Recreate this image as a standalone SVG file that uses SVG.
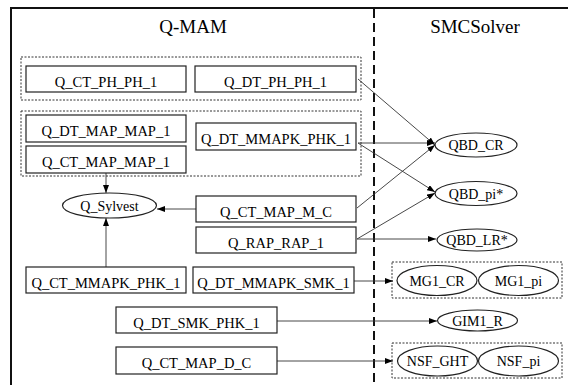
<svg xmlns="http://www.w3.org/2000/svg" width="568" height="385" viewBox="0 0 568 385" font-family="'Liberation Serif', 'DejaVu Serif', serif">
<defs>
<marker id="ah" viewBox="0 0 8 6" refX="8" refY="3" markerWidth="8" markerHeight="6" markerUnits="userSpaceOnUse" orient="auto">
<path d="M0,0 L8,3 L0,6 z" fill="#000"/>
</marker>
</defs>
<style>
text{font-family:'Liberation Serif','DejaVu Serif',serif;fill:#000;text-anchor:middle}
.t{font-size:19px}
.bx rect{fill:#fff;stroke:#222;stroke-width:1.2}
.bx text{font-size:14.5px}
.el ellipse{fill:#fff;stroke:#222;stroke-width:1.2}
.el text{font-size:14px}
.grp{fill:none;stroke:#333;stroke-width:1;stroke-dasharray:2,1.5}
.c{fill:none;stroke:#333;stroke-width:0.9;marker-end:url(#ah)}
</style>
<rect width="568" height="385" fill="#fff"/>
<path d="M11,385 V8 H568" fill="none" stroke="#111" stroke-width="2"/>
<line x1="374" y1="9" x2="374" y2="385" stroke="#111" stroke-width="2" stroke-dasharray="9,5"/>
<text class="t" x="193" y="33">Q-MAM</text>
<text class="t" x="475" y="33">SMCSolver</text>

<rect class="grp" x="21" y="57" width="340" height="43"/>
<rect class="grp" x="21" y="111" width="340" height="65"/>
<rect class="grp" x="392" y="262" width="170" height="36"/>
<rect class="grp" x="392" y="343" width="170" height="35"/>

<g id="connectors">
<path class="c" d="M358,79 L435,145"/>
<path class="c" d="M358,143 L435,143"/>
<path class="c" d="M358,143 L435,192"/>
<path class="c" d="M357,208 L435,145"/>
<path class="c" d="M357,239 L435,193"/>
<path class="c" d="M357,239 L436,239"/>
<path class="c" d="M106,173 V193"/>
<path class="c" d="M106,267 V218"/>
<path class="c" d="M196,209 H157"/>
<path class="c" d="M354,281 H393"/>
<path class="c" d="M277,321 H437"/>
<path class="c" d="M277,361 H393"/>
</g>

<g id="Q_CT_PH_PH_1" class="bx"><rect x="26" y="66" width="160" height="26"/><text x="106" y="87">Q_CT_PH_PH_1</text></g>
<g id="Q_DT_PH_PH_1" class="bx"><rect x="195" y="66" width="161" height="26"/><text x="275.5" y="87">Q_DT_PH_PH_1</text></g>
<g id="Q_DT_MAP_MAP_1" class="bx"><rect x="26" y="115" width="160" height="27"/><text x="106" y="136">Q_DT_MAP_MAP_1</text></g>
<g id="Q_CT_MAP_MAP_1" class="bx"><rect x="26" y="146" width="160" height="27"/><text x="106" y="167">Q_CT_MAP_MAP_1</text></g>
<g id="Q_DT_MMAPK_PHK_1" class="bx"><rect x="196" y="123" width="160" height="27"/><text x="276" y="144">Q_DT_MMAPK_PHK_1</text></g>
<g id="Q_CT_MAP_M_C" class="bx"><rect x="196" y="196" width="160" height="26"/><text x="276" y="217">Q_CT_MAP_M_C</text></g>
<g id="Q_RAP_RAP_1" class="bx"><rect x="196" y="227" width="160" height="26"/><text x="276" y="248">Q_RAP_RAP_1</text></g>
<g id="Q_CT_MMAPK_PHK_1" class="bx"><rect x="26" y="267" width="160" height="26"/><text x="106" y="288">Q_CT_MMAPK_PHK_1</text></g>
<g id="Q_DT_MMAPK_SMK_1" class="bx"><rect x="193" y="267" width="161" height="26"/><text x="273.5" y="288">Q_DT_MMAPK_SMK_1</text></g>
<g id="Q_DT_SMK_PHK_1" class="bx"><rect x="116" y="307" width="161" height="26"/><text x="196.5" y="328">Q_DT_SMK_PHK_1</text></g>
<g id="Q_CT_MAP_D_C" class="bx"><rect x="116" y="347" width="161" height="27"/><text x="196.5" y="368">Q_CT_MAP_D_C</text></g>

<g id="Q_Sylvest" class="el"><ellipse cx="109.5" cy="205.5" rx="47" ry="12.5"/><text x="109.5" y="210.5">Q_Sylvest</text></g>
<g id="QBD_CR" class="el"><ellipse cx="476" cy="145" rx="41" ry="12"/><text x="476" y="150">QBD_CR</text></g>
<g id="QBD_pi" class="el"><ellipse cx="476" cy="193.5" rx="41" ry="12"/><text x="476" y="198.5">QBD_pi*</text></g>
<g id="QBD_LR" class="el"><ellipse cx="477" cy="240" rx="40" ry="11"/><text x="477" y="245">QBD_LR*</text></g>
<g id="MG1_CR" class="el"><ellipse cx="437" cy="280.5" rx="40" ry="15"/><text x="437" y="285.5">MG1_CR</text></g>
<g id="MG1_pi" class="el"><ellipse cx="518.5" cy="280.5" rx="40" ry="15"/><text x="518.5" y="285.5">MG1_pi</text></g>
<g id="GIM1_R" class="el"><ellipse cx="477.5" cy="320.5" rx="40" ry="10.5"/><text x="477.5" y="325.5">GIM1_R</text></g>
<g id="NSF_GHT" class="el"><ellipse cx="437.5" cy="361" rx="40" ry="15"/><text x="437.5" y="366">NSF_GHT</text></g>
<g id="NSF_pi" class="el"><ellipse cx="518.5" cy="361" rx="40" ry="15"/><text x="518.5" y="366">NSF_pi</text></g>
</svg>
